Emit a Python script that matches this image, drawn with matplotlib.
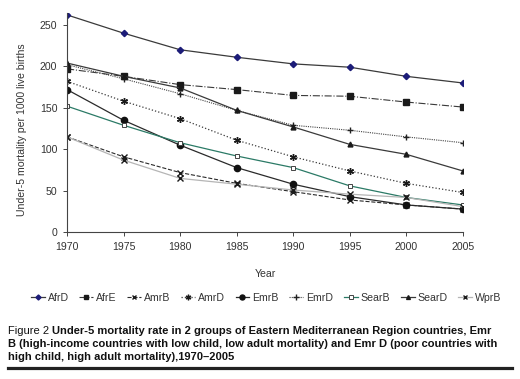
import numpy as np
import matplotlib.pyplot as plt
from matplotlib.lines import Line2D

plt.rcParams['font.family'] = ['Liberation Sans', 'DejaVu Sans']

# data
years = [1970, 1975, 1980, 1985, 1990, 1995, 2000, 2005]
AfrD = [262, 240, 220, 211, 203, 199, 188, 180]
AfrE = [197, 188, 178, 172, 165, 164, 157, 151]
AmrB = [115, 91, 72, 59, 49, 39, 33, 28]
AmrD = [182, 158, 137, 111, 91, 74, 59, 48]
EmrB = [172, 135, 105, 78, 58, 43, 33, 28]
EmrD = [202, 185, 167, 147, 129, 123, 115, 108]
SearB = [152, 129, 108, 92, 78, 56, 42, 33]
SearD = [204, 188, 174, 147, 127, 106, 94, 74]
WprB = [115, 87, 65, 58, 51, 46, 42, 31]

yticks = [0, 50, 100, 150, 200, 250]

fig = plt.figure(figsize=(5.2, 3.79), dpi=100)
ax = fig.add_axes([0.129, 0.387, 0.761, 0.578])

asterisk = (6, 2, 0)
ax.plot(years, AfrD, '-', color='#3a3a3a', lw=0.9, marker='D', ms=3.2,
        mfc='#1c1c78', mec='#1c1c78', label='AfrD')
ax.plot(years, AfrE, '-.', color='#3a3a3a', lw=0.8, marker='s', ms=4,
        mfc='#1a1a1a', mec='#1a1a1a', label='AfrE')
ax.plot(years, AmrB, '--', color='#2a2a2a', lw=0.8, marker='x', ms=4,
        mec='#1a1a1a', label='AmrB')
ax.plot(years, AmrD, ':', color='#3a3a3a', lw=0.9, marker=asterisk, ms=5,
        mec='#1a1a1a', label='AmrD')
ax.plot(years, EmrB, '-', color='#2a2a2a', lw=0.9, marker='o', ms=4.5,
        mfc='#111111', mec='#111111', label='EmrB')
ax.plot(years, EmrD, linestyle=(0, (1, 1)), color='#444444', lw=0.8, marker='+',
        ms=5, mec='#222222', label='EmrD')
ax.plot(years, SearB, '-', color='#2b7a66', lw=0.9, marker='s', ms=3.2,
        mfc='white', mec='#444444', mew=0.7, label='SearB')
ax.plot(years, SearD, '-', color='#3a3a3a', lw=0.9, marker='^', ms=3.5,
        mfc='#1a1a1a', mec='#1a1a1a', label='SearD')
ax.plot(years, WprB, '-', color='#b5b5b5', lw=0.9, marker='x', ms=4,
        mec='#1a1a1a', label='WprB')

ax.set_xlim(1970, 2005)
ax.set_ylim(0, 264)
ax.set_xticks(years)
ax.set_yticks(yticks)
for s in ['top', 'right']:
    ax.spines[s].set_visible(False)
for s in ['left', 'bottom']:
    ax.spines[s].set_color('#444444')
    ax.spines[s].set_linewidth(0.8)
ax.tick_params(direction='out', length=3, width=0.7, colors='#444444',
               labelsize=7.6, labelcolor='#333333', pad=4)

fig.text(0.042, 1 - 130 / 379, 'Under-5 mortality per 1000 live births',
         rotation=90, ha='center', va='center', fontsize=7.6, color='#333333')
fig.text(0.51, 1 - 274 / 379, 'Year', ha='center', va='center', fontsize=7.6,
         color='#333333')

leg = fig.legend(loc='center', bbox_to_anchor=(0.512, 1 - 298 / 379), ncol=9,
                 frameon=False, fontsize=7.6, handlelength=1.3, handletextpad=0.3,
                 columnspacing=1.0, borderaxespad=0, markerscale=0.8)
for t in leg.get_texts():
    t.set_color('#333333')

# caption
x0 = 8 / 520
t1 = fig.text(x0, 1 - 330.7 / 379, 'Figure 2', fontsize=8, va='center',
              color='#111111')
ax.annotate('Under-5 mortality rate in 2 groups of Eastern Mediterranean Region countries, Emr',
            xy=(1, 0), xycoords=t1, xytext=(2.4, 0), textcoords='offset points',
            va='bottom', ha='left', fontsize=8, fontweight='bold', color='#111111',
            annotation_clip=False)
fig.text(x0, 1 - 344 / 379,
         'B (high-income countries with low child, low adult mortality) and Emr D (poor countries with',
         fontsize=8, fontweight='bold', va='center', color='#111111')
fig.text(x0, 1 - 356.7 / 379, 'high child, high adult mortality),1970\u20132005',
         fontsize=8, fontweight='bold', va='center', color='#111111')
fig.add_artist(Line2D([x0, 512 / 520], [1 - 368 / 379] * 2, color='#222222', lw=2.3))

fig.savefig('out.png', dpi=100)
